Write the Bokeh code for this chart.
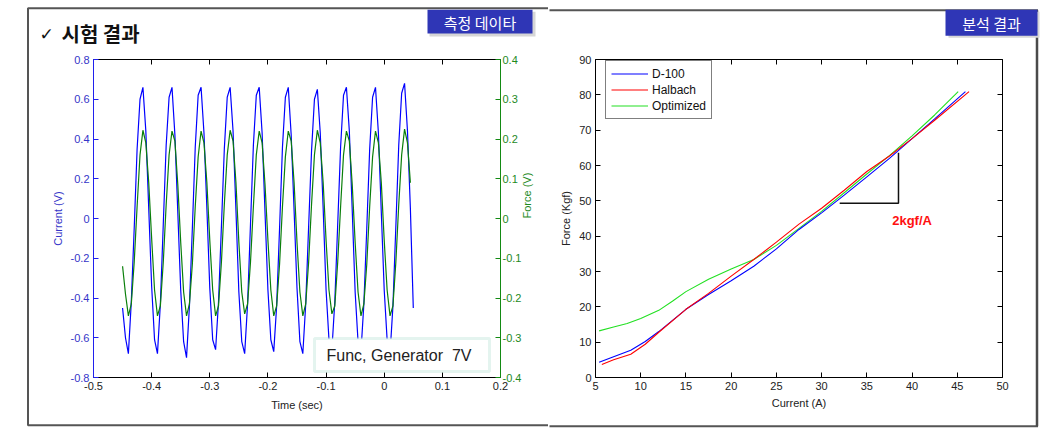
import math
from bokeh.plotting import figure
from bokeh.models import (Range1d, LinearAxis, FixedTicker, Legend, LegendItem,
                          Label, BoxAnnotation, CustomLabelingPolicy)
from bokeh.layouts import row
from bokeh.core.properties import value
from bokeh.embed import file_html
from bokeh.resources import INLINE

# ---------------- data: left chart (measured) ----------------
time_s = [
    -0.450, -0.445, -0.440, -0.435, -0.430, -0.425, -0.420, -0.415, -0.410, -0.405,
    -0.400, -0.395, -0.390, -0.385, -0.380, -0.375, -0.370, -0.365, -0.360, -0.355,
    -0.350, -0.345, -0.340, -0.335, -0.330, -0.325, -0.320, -0.315, -0.310, -0.305,
    -0.300, -0.295, -0.290, -0.285, -0.280, -0.275, -0.270, -0.265, -0.260, -0.255,
    -0.250, -0.245, -0.240, -0.235, -0.230, -0.225, -0.220, -0.215, -0.210, -0.205,
    -0.200, -0.195, -0.190, -0.185, -0.180, -0.175, -0.170, -0.165, -0.160, -0.155,
    -0.150, -0.145, -0.140, -0.135, -0.130, -0.125, -0.120, -0.115, -0.110, -0.105,
    -0.100, -0.095, -0.090, -0.085, -0.080, -0.075, -0.070, -0.065, -0.060, -0.055,
    -0.050, -0.045, -0.040, -0.035, -0.030, -0.025, -0.020, -0.015, -0.010, -0.005,
    0.000, 0.005, 0.010, 0.015, 0.020, 0.025, 0.030, 0.035, 0.040, 0.045,
    0.050,
]
current_v = [
    -0.45, -0.60, -0.68, -0.42, -0.05, 0.35, 0.60, 0.66, 0.44, 0.05,
    -0.34, -0.61, -0.68, -0.43, -0.03, 0.37, 0.61, 0.66, 0.42, 0.03,
    -0.36, -0.62, -0.70, -0.44, -0.05, 0.36, 0.62, 0.66, 0.43, 0.05,
    -0.35, -0.61, -0.66, -0.42, -0.04, 0.35, 0.61, 0.66, 0.44, 0.04,
    -0.37, -0.62, -0.68, -0.43, -0.03, 0.37, 0.62, 0.66, 0.43, 0.03,
    -0.36, -0.61, -0.67, -0.44, -0.05, 0.36, 0.61, 0.66, 0.42, 0.04,
    -0.35, -0.62, -0.68, -0.43, -0.04, 0.34, 0.60, 0.65, 0.43, 0.05,
    -0.36, -0.61, -0.66, -0.42, -0.03, 0.36, 0.62, 0.66, 0.44, 0.04,
    -0.37, -0.62, -0.67, -0.43, -0.05, 0.35, 0.61, 0.66, 0.43, 0.03,
    -0.36, -0.61, -0.68, -0.44, -0.04, 0.37, 0.63, 0.68, 0.44, 0.05,
    -0.45,
]
force_v = [
    -0.120, -0.190, -0.245, -0.215, -0.110, 0.030, 0.160, 0.222, 0.190, 0.090,
    -0.050, -0.180, -0.245, -0.220, -0.110, 0.035, 0.160, 0.220, 0.195, 0.085,
    -0.060, -0.185, -0.245, -0.215, -0.115, 0.030, 0.155, 0.220, 0.190, 0.090,
    -0.055, -0.180, -0.245, -0.220, -0.110, 0.035, 0.160, 0.222, 0.195, 0.090,
    -0.060, -0.185, -0.240, -0.215, -0.110, 0.030, 0.160, 0.220, 0.190, 0.085,
    -0.055, -0.180, -0.245, -0.220, -0.115, 0.030, 0.155, 0.220, 0.195, 0.090,
    -0.060, -0.185, -0.245, -0.215, -0.110, 0.035, 0.160, 0.222, 0.190, 0.090,
    -0.055, -0.180, -0.240, -0.220, -0.110, 0.030, 0.160, 0.220, 0.195, 0.085,
    -0.060, -0.185, -0.245, -0.215, -0.115, 0.030, 0.155, 0.220, 0.190, 0.090,
    -0.055, -0.180, -0.245, -0.220, -0.110, 0.035, 0.160, 0.225, 0.190, 0.090,
]
time_ticks = [-0.5, -0.4, -0.3, -0.2, -0.1, 0.0, 0.1, 0.2]
time_tick_labels = ["-0.5", "-0.4", "-0.3", "-0.2", "-0.1", "0", "0.1", "0.2"]
cur_ticks = [-0.8, -0.6, -0.4, -0.2, 0.0, 0.2, 0.4, 0.6, 0.8]
cur_tick_labels = ["-0.8", "-0.6", "-0.4", "-0.2", "0", "0.2", "0.4", "0.6", "0.8"]
force_ticks = [-0.4, -0.3, -0.2, -0.1, 0.0, 0.1, 0.2, 0.3, 0.4]
force_tick_labels = ["-0.4", "-0.3", "-0.2", "-0.1", "0", "0.1", "0.2", "0.3", "0.4"]

# ---------------- data: right chart (analysis) ----------------
d100_current = [5.4, 7.0, 8.9, 10.5, 12.0, 15.0, 17.5, 20.0, 22.5, 25.0, 27.5, 30.0, 32.5, 35.0, 37.5, 40.0, 42.5, 45.9]
d100_force = [4.3, 5.9, 7.7, 10.2, 13.0, 19.3, 23.5, 27.4, 31.5, 36.4, 41.9, 46.6, 51.6, 56.8, 62.0, 67.6, 73.2, 80.9]
halbach_current = [5.7, 7.0, 8.9, 10.5, 12.0, 15.0, 17.5, 20.0, 22.5, 25.0, 27.5, 30.0, 32.5, 35.0, 37.5, 40.0, 42.5, 46.3]
halbach_force = [3.7, 5.0, 6.6, 9.4, 12.8, 19.3, 23.8, 28.7, 33.4, 38.3, 43.4, 47.9, 53.0, 58.3, 62.7, 67.6, 72.8, 80.9]
opt_current = [5.4, 7.0, 8.5, 10.0, 12.0, 13.5, 15.0, 17.5, 20.0, 22.5, 25.0, 27.5, 30.0, 32.5, 35.0, 37.5, 40.0, 42.5, 45.1]
opt_force = [13.2, 14.3, 15.3, 16.7, 19.0, 21.6, 24.3, 27.8, 30.7, 33.4, 37.4, 42.2, 47.0, 52.3, 57.6, 62.8, 68.4, 74.3, 80.9]
amp_ticks = [5, 10, 15, 20, 25, 30, 35, 40, 45, 50]
kgf_ticks = [0, 10, 20, 30, 40, 50, 60, 70, 80, 90]
slope_x = [32.0, 38.5, 38.5]
slope_y = [49.3, 49.3, 63.6]
slope_text = "2kgf/A"

FONT = "Liberation Sans"
KFONT = "Noto Sans CJK KR"
H = 432
LW, RW = 548, 496
FRAME = "#555555"

NO_LABELS = """
const ids = Array.from(indices);
for (const i of ids) { indices.unset(i); }
return indices;
"""


def style_axis(ax, color="black", label_color="#222222", labels=True):
    ax.axis_line_color = color
    ax.axis_line_width = 1
    ax.major_tick_line_color = color
    ax.minor_tick_line_color = None
    ax.major_tick_in = 5
    ax.major_tick_out = 0
    ax.major_label_text_font = FONT
    ax.major_label_text_font_size = "11px"
    ax.major_label_text_color = label_color
    ax.major_label_standoff = 4
    ax.axis_label_text_font = FONT
    ax.axis_label_text_font_size = "11px"
    ax.axis_label_text_font_style = "normal"
    ax.axis_label_text_color = label_color
    ax.axis_label_standoff = 4
    if not labels:
        ax.major_label_policy = CustomLabelingPolicy(code=NO_LABELS)
        ax.major_label_standoff = 0


def px_text(p, x, y, txt, font, size, color, style="normal", align="left"):
    p.text(x=[x], y=[y], text=[txt], x_range_name="px", y_range_name="py",
           text_font=value(font), text_font_size=value(size), text_font_style=style,
           text_color=color, text_align=align, text_baseline="middle", level="overlay")


def px_line(p, xs, ys, color=FRAME, width=2):
    p.line(x=xs, y=ys, x_range_name="px", y_range_name="py", line_color=color,
           line_width=width, level="overlay")


# ================= left figure =================
p1 = figure(width=LW, height=H, x_range=Range1d(-0.5, 0.2), y_range=Range1d(-0.8, 0.8),
            output_backend="svg", toolbar_location=None,
            min_border_left=93, min_border_right=LW - 500, min_border_top=59, min_border_bottom=H - 378)
p1.extra_y_ranges = {"force": Range1d(-0.4, 0.4), "py": Range1d(378, 59)}
p1.extra_x_ranges = {"px": Range1d(93, 500)}
p1.outline_line_color = None
p1.grid.visible = False
p1.background_fill_color = "white"
p1.border_fill_color = "white"

xa = p1.xaxis[0]
xa.ticker = FixedTicker(ticks=time_ticks)
xa.major_label_overrides = dict(zip(time_ticks, time_tick_labels))
xa.axis_label = "Time (sec)"
style_axis(xa)
xa.axis_label_standoff = 6

ya = p1.yaxis[0]
ya.ticker = FixedTicker(ticks=cur_ticks)
ya.major_label_overrides = dict(zip(cur_ticks, cur_tick_labels))
ya.axis_label = "Current (V)"
style_axis(ya, color="#2020ee", label_color="#3535c8")

top1 = LinearAxis(ticker=FixedTicker(ticks=time_ticks))
style_axis(top1, labels=False)
p1.add_layout(top1, "above")

ra = LinearAxis(y_range_name="force", ticker=FixedTicker(ticks=force_ticks), axis_label="Force (V)")
ra.major_label_overrides = dict(zip(force_ticks, force_tick_labels))
style_axis(ra, color="#138a13", label_color="#1e8a1e")
ra.major_label_standoff = 2
ra.axis_label_standoff = 3
ra.axis_label_orientation = math.pi / 2
p1.add_layout(ra, "right")

p1.line(time_s, current_v, line_color="#0000ff", line_width=1.2)
p1.line(time_s[:len(force_v)], force_v, y_range_name="force", line_color="#0a7f0a", line_width=1.2)

# text box
p1.add_layout(BoxAnnotation(left=314, right=489, top=339, bottom=372, x_range_name="px", y_range_name="py",
                            fill_color="white", fill_alpha=1.0, line_color="#a6dccb", line_width=3,
                            level="annotation"))
p1.add_layout(Label(x=326, y=356, x_range_name="px", y_range_name="py", text="Func, Generator \u00a07V",
                    text_font=FONT, text_font_size="16px", text_color="#222222",
                    text_baseline="middle", text_align="left", level="overlay"))

# outer frame (left part), title and badge
px_line(p1, [LW + 2, 27.5, 27.5, LW + 2], [7.5, 7.5, 426.0, 426.0])
px_text(p1, 39, 33, "\u2713", "DejaVu Sans", "17px", "#111111")
px_text(p1, 61, 33, "시험 결과", KFONT, "20px", "#111111", style="bold")
p1.quad(left=[429], right=[535], top=[11], bottom=[36], x_range_name="px", y_range_name="py",
        fill_color="#d6d6d6", line_color=None, level="overlay")
p1.quad(left=[427], right=[532], top=[9], bottom=[33], x_range_name="px", y_range_name="py",
        fill_color="#2f36b6", line_color=None, level="overlay")
px_text(p1, 479.5, 21.5, "측정 데이타", KFONT, "15px", "white", align="center")

# ================= right figure =================
X0 = LW
p2 = figure(width=RW, height=H, x_range=Range1d(5, 50), y_range=Range1d(0, 90),
            output_backend="svg", toolbar_location=None,
            min_border_left=595 - X0, min_border_right=RW - (1002 - X0), min_border_top=57,
            min_border_bottom=H - 377)
p2.extra_x_ranges = {"px": Range1d(595, 1002)}
p2.extra_y_ranges = {"py": Range1d(377, 57)}
p2.outline_line_color = None
p2.grid.visible = False
p2.background_fill_color = "white"
p2.border_fill_color = "white"

xb = p2.xaxis[0]
xb.ticker = FixedTicker(ticks=amp_ticks)
xb.axis_label = "Current (A)"
style_axis(xb)
yb = p2.yaxis[0]
yb.ticker = FixedTicker(ticks=kgf_ticks)
yb.axis_label = "Force (Kgf)"
style_axis(yb)
top2 = LinearAxis(ticker=FixedTicker(ticks=amp_ticks))
style_axis(top2, labels=False)
p2.add_layout(top2, "above")
right2 = LinearAxis(ticker=FixedTicker(ticks=kgf_ticks))
style_axis(right2, labels=False)
p2.add_layout(right2, "right")

r_opt = p2.line(opt_current, opt_force, line_color="#22e022", line_width=1.1)
r_d = p2.line(d100_current, d100_force, line_color="#0000ff", line_width=1.1)
r_h = p2.line(halbach_current, halbach_force, line_color="#ff0000", line_width=1.1)

p2.line(slope_x, slope_y, line_color="#111111", line_width=1.5)
p2.add_layout(Label(x=40.0, y=44.4, text=slope_text, text_font=FONT, text_font_size="13px",
                    text_font_style="bold", text_color="#ff1010", text_align="center",
                    text_baseline="middle"))

legend = Legend(items=[LegendItem(label="D-100", renderers=[r_d]),
                       LegendItem(label="Halbach", renderers=[r_h]),
                       LegendItem(label="Optimized", renderers=[r_opt])],
                location=(10, 258), margin=0, padding=5, spacing=1,
                glyph_width=37, glyph_height=15, label_height=15, label_standoff=4,
                label_text_font=FONT, label_text_font_size="12px", label_text_color="#111111",
                border_line_color="black", border_line_width=1, background_fill_color="white",
                background_fill_alpha=1.0)
p2.add_layout(legend)

# outer frame (right part) and badge
px_line(p2, [X0 + 1, 1037.5], [7.5, 7.5])
px_line(p2, [X0 + 1, 1037.5], [426.0, 426.0])
px_line(p2, [1036.5, 1036.5], [7.5, 426.0], color="#4a4a4a", width=2.5)
p2.quad(left=[948], right=[1039], top=[9], bottom=[35], x_range_name="px", y_range_name="py",
        fill_color="#d6d6d6", line_color=None, level="overlay")
p2.quad(left=[945], right=[1037], top=[7], bottom=[33], x_range_name="px", y_range_name="py",
        fill_color="#2f36b6", line_color=None, level="overlay")
px_text(p2, 991, 20.5, "분석 결과", KFONT, "15px", "white", align="center")

layout = row(p1, p2, spacing=0)
open("out.html", "w").write(file_html(layout, INLINE))
